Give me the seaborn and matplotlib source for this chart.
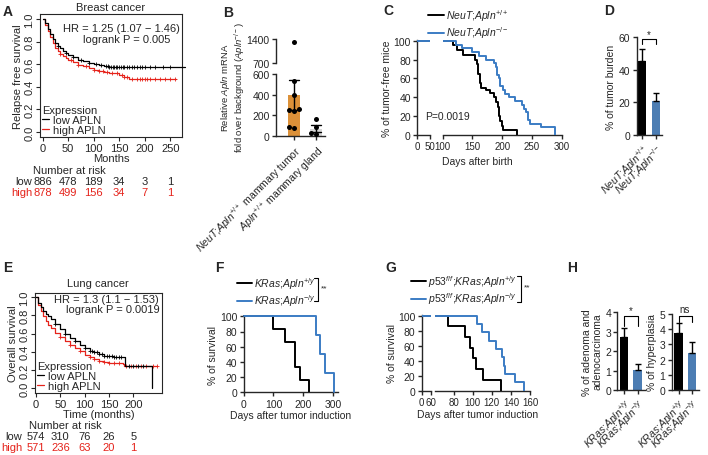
import numpy as np
import pandas as pd
import seaborn as sns
import matplotlib.pyplot as plt
from matplotlib import transforms
from matplotlib.lines import Line2D

# ---------------- data ----------------
# A: breast cancer relapse free survival (months, survival)
breast_low_t = [0, 5, 10, 15, 20, 25, 30, 35, 40, 45, 50, 60, 70, 80, 90, 100, 110, 120, 130, 278]
breast_low_s = [1.0, 0.96, 0.91, 0.87, 0.82, 0.785, 0.76, 0.74, 0.72, 0.70, 0.685, 0.66, 0.64,
                0.625, 0.61, 0.60, 0.59, 0.582, 0.577, 0.577]
breast_high_t = [0, 5, 10, 15, 20, 25, 30, 35, 40, 45, 50, 60, 70, 80, 90, 100, 110, 120, 130,
                 140, 150, 160, 170, 262]
breast_high_s = [1.0, 0.95, 0.89, 0.84, 0.79, 0.745, 0.715, 0.69, 0.67, 0.655, 0.64, 0.615, 0.595,
                 0.58, 0.565, 0.55, 0.54, 0.535, 0.525, 0.52, 0.50, 0.49, 0.47, 0.47]
breast_low_cens = [30, 45, 60, 75, 90, 105, 115, 125, 128, 131, 134, 137, 140, 143, 146, 150, 153,
                   157, 160, 165, 170, 175, 180, 185, 190, 195, 200, 210, 220, 235, 250, 275]
breast_high_cens = [35, 55, 70, 85, 100, 110, 118, 126, 135, 145, 155, 160, 165, 175, 185, 190,
                    195, 200, 205, 210, 220, 230, 240, 250, 260]
breast_risk_months = [0, 50, 100, 150, 200, 250]
breast_risk_low = [886, 478, 189, 34, 3, 1]
breast_risk_high = [878, 499, 156, 34, 7, 1]

# B: relative Apln mRNA
b_groups = ["tumor"] * 8 + ["gland"] * 4
b_values = [1320, 530, 400, 265, 255, 240, 90, 80, 165, 85, 25, 15]

# C: tumor-free mice (days, %)
c_wt_t = [0, 117, 124, 134, 155, 158, 160, 162, 164, 172, 180, 186, 190, 193, 195, 197, 199, 201, 225]
c_wt_s = [100, 95, 90, 85, 80, 75, 65, 55, 50, 47.5, 45, 40, 35, 30, 20, 15, 10, 5, 0]
c_ko_t = [0, 122, 133, 150, 161, 172, 186, 190, 192, 194, 197, 201, 205, 211, 222, 233, 237, 240,
          243, 246, 265, 289]
c_ko_s = [100, 96, 92, 88, 84, 80, 76, 72, 64, 60, 52, 48, 44, 40, 36, 32, 28, 24, 16, 12, 8, 0]

# D: tumor burden
d_means = [45.5, 20.5]
d_sems = [7.0, 5.0]

# E: lung cancer overall survival
lung_low_t = [0, 5, 10, 15, 20, 25, 30, 40, 50, 60, 70, 80, 90, 100, 110, 120, 130, 140, 150, 160,
              180, 182, 237, 237.5]
lung_low_s = [1.0, 0.94, 0.89, 0.85, 0.82, 0.79, 0.76, 0.71, 0.655, 0.595, 0.555, 0.515, 0.475,
              0.44, 0.415, 0.395, 0.375, 0.36, 0.35, 0.34, 0.34, 0.245, 0.245, 0.0]
lung_high_t = [0, 5, 10, 15, 20, 25, 30, 40, 50, 60, 70, 80, 90, 100, 110, 120, 130, 140, 150, 160,
               178, 180, 248]
lung_high_s = [1.0, 0.92, 0.85, 0.79, 0.74, 0.70, 0.665, 0.61, 0.56, 0.515, 0.48, 0.44, 0.405,
               0.37, 0.345, 0.325, 0.305, 0.29, 0.28, 0.275, 0.27, 0.245, 0.245]
lung_low_cens = [40, 60, 80, 100, 110, 115, 120, 125, 130, 135, 140, 145, 150, 155, 160, 165, 170,
                 175, 190, 200, 210, 220]
lung_high_cens = [50, 70, 90, 110, 120, 130, 140, 150, 160, 170, 185, 195, 205, 215, 225, 240, 248]
lung_risk_months = [0, 50, 100, 150, 200]
lung_risk_low = [574, 310, 76, 26, 5]
lung_risk_high = [571, 236, 63, 20, 1]

# F: KRas survival
f_wt_t = [0, 97, 140, 172, 188, 218]
f_wt_s = [100, 83.3, 66.7, 33.3, 16.7, 0]
f_ko_t = [0, 241, 257, 272, 303]
f_ko_s = [100, 75, 50, 25, 0]

# G: p53;KRas survival
g_wt_t = [0, 74, 92, 97.5, 100, 103, 111, 130]
g_wt_s = [100, 85.7, 71.4, 57.1, 42.9, 28.6, 14.3, 0]
g_ko_t = [0, 105, 110, 117, 124, 131, 132.5, 134, 144, 154]
g_ko_s = [100, 88.9, 77.8, 66.7, 55.6, 44.4, 33.3, 22.2, 11.1, 0]

# H: adenoma / hyperplasia
h1_means = [2.75, 1.05]
h1_sems = [0.45, 0.3]
h2_means = [3.75, 2.45]
h2_sems = [0.65, 0.68]

BLACK = "#000000"
BLUE = "#3B7CC4"
RED = "#E5231B"
ORANGE = "#F7931E"
GRAY = "#D6D6D6"

# ---------------- style ----------------
sns.set_style("ticks")
plt.rcParams['font.family'] = ['Liberation Sans', 'DejaVu Sans']
plt.rcParams['mathtext.fontset'] = 'custom'
plt.rcParams['mathtext.rm'] = 'Liberation Sans'
plt.rcParams['mathtext.it'] = 'Liberation Sans:italic'
plt.rcParams['mathtext.bf'] = 'Liberation Sans:bold'
plt.rcParams['axes.linewidth'] = 1.0

W, H = 708, 456
fig = plt.figure(figsize=(W / 100, H / 100), dpi=100)
PT = 7.5   # prism tick label size
RT = 8     # R tick label size


def add_ax(left, top, right, bottom):
    return fig.add_axes([left / W, 1 - bottom / H, (right - left) / W, (bottom - top) / H])


def ftext(x, y, s, **kw):
    return fig.text(x / W, 1 - y / H, s, **kw)


def step_at(t, s, times):
    idx = np.searchsorted(np.asarray(t), np.asarray(times), side='right') - 1
    return np.asarray(s)[idx]


def km_line(ax, t, s, color, lw=1.4, zorder=2, clip=False):
    df = pd.DataFrame({'t': t, 's': s})
    sns.lineplot(data=df, x='t', y='s', ax=ax, color=color, lw=lw, drawstyle='steps-post',
                 estimator=None, sort=False, zorder=zorder, clip_on=clip)


def prism(ax, left=True, xsize=PT):
    sns.despine(ax=ax, left=not left)
    ax.tick_params(direction='out', length=3, width=1, labelsize=PT, pad=1.5)
    ax.tick_params(axis='x', labelsize=xsize)
    if not left:
        ax.tick_params(axis='y', left=False, labelleft=False)
    ax.set_xlabel('')
    ax.set_ylabel('')


def g(s, sup):
    # italic genotype with superscript
    parts = s.split(';')
    txt = ';'.join(r"$\mathit{" + p + "}$" for p in parts[:-1])
    if txt:
        txt += ';'
    return txt + r"$\mathit{" + parts[-1] + r"}^{" + sup + r"}$"


def r_panel(ax, low_t, low_s, high_t, high_s, low_c, high_c, xlim, ylim, xticks):
    km_line(ax, low_t, low_s, BLACK, lw=0.9, zorder=3)
    km_line(ax, high_t, high_s, RED, lw=0.9, zorder=2)
    sns.scatterplot(x=low_c, y=step_at(low_t, low_s, low_c), ax=ax, marker='+', s=10,
                    color=BLACK, linewidth=0.6, zorder=3)
    sns.scatterplot(x=high_c, y=step_at(high_t, high_s, high_c), ax=ax, marker='+', s=10,
                    color=RED, linewidth=0.6, zorder=2)
    ax.set_xlim(*xlim)
    ax.set_ylim(*ylim)
    ax.set_xticks(xticks)
    ax.set_yticks([0, 0.2, 0.4, 0.6, 0.8, 1.0], labels=['0.0', '0.2', '0.4', '0.6', '0.8', '1.0'])
    for sp in ax.spines.values():
        sp.set_visible(True)
        sp.set_linewidth(0.8)
    ax.tick_params(direction='out', length=3, width=0.8, labelsize=RT, pad=1)
    ax.tick_params(axis='y', labelrotation=90)
    for lab in ax.get_yticklabels():
        lab.set_va('center')
    handles = [Line2D([], [], color=BLACK, lw=0.9), Line2D([], [], color=RED, lw=0.9)]
    ax.legend(handles, ['low APLN', 'high APLN'], title='Expression', loc='lower left',
              frameon=False, fontsize=8, title_fontsize=8, handlelength=0.7,
              handletextpad=0.3, labelspacing=0.0, borderpad=0.1, borderaxespad=0.05,
              alignment='left')


def risk_table(ax, months, low, high, label_x, y_title, y_low, y_high, title_x):
    tr = transforms.blended_transform_factory(ax.transData, fig.transFigure)
    ftext(title_x, y_title, 'Number at risk', fontsize=8, ha='left', va='center')
    ftext(label_x, y_low, 'low', fontsize=8, ha='right', va='center')
    ftext(label_x, y_high, 'high', fontsize=8, ha='right', va='center', color=RED)
    for m, a, b in zip(months, low, high):
        ax.text(m, 1 - y_low / H, str(a), transform=tr, fontsize=8, ha='center', va='center')
        ax.text(m, 1 - y_high / H, str(b), transform=tr, fontsize=8, ha='center', va='center',
                color=RED)


def bracket(ax, x0, x1, y, leg, label, label_y, fs=7):
    ax.plot([x0, x0, x1, x1], [y - leg, y, y, y - leg], color='black', lw=0.8, clip_on=False)
    ax.text((x0 + x1) / 2, label_y, label, ha='center', va='center', fontsize=fs)


def legend_bracket(x, y0, y1, text):
    fig.add_artist(Line2D([(x - 4) / W, x / W, x / W, (x - 4) / W],
                          [1 - y0 / H, 1 - y0 / H, 1 - y1 / H, 1 - y1 / H],
                          color='black', lw=0.8))
    ftext(x + 3, (y0 + y1) / 2 - 2, text, fontsize=6, ha='left', va='center')


def km_legend(ax, labels, x, y, hl=1.4):
    ax.legend([Line2D([], [], color=BLACK, lw=1.4), Line2D([], [], color=BLUE, lw=1.4)], labels,
              loc='upper left', bbox_to_anchor=(x / W, 1 - y / H), bbox_transform=fig.transFigure,
              frameon=False, fontsize=7.5, handlelength=hl, handletextpad=0.2, labelspacing=0.15,
              borderpad=0, borderaxespad=0)


# ---------------- A ----------------
axA = add_ax(40, 15, 182, 138)
r_panel(axA, breast_low_t, breast_low_s, breast_high_t, breast_high_s, breast_low_cens,
        breast_high_cens, (-5, 273), (-0.044, 1.044), [0, 50, 100, 150, 200, 250])
axA.set_title('Breast cancer', fontsize=8, pad=3)
axA.set_xlabel('Months', fontsize=8, labelpad=0.5)
axA.set_ylabel('Relapse free survival', fontsize=8, labelpad=1)
axA.text(0.57, 0.89, 'HR = 1.25 (1.07 \u2212 1.46)', transform=axA.transAxes, fontsize=8,
         ha='center', va='center')
axA.text(0.61, 0.80, 'logrank P = 0.005', transform=axA.transAxes, fontsize=8,
         ha='center', va='center')
risk_table(axA, breast_risk_months, breast_risk_low, breast_risk_high, 32.5, 171, 182, 193, 33)

# ---------------- B ----------------
b_df = pd.DataFrame({'group': b_groups, 'value': b_values})
axBb = add_ax(276, 75, 325, 137)
axBt = add_ax(276, 40, 325, 64)
sns.barplot(data=b_df, x='group', y='value', hue='group', palette=[ORANGE, GRAY], legend=False,
            errorbar='se', capsize=0.45, err_kws={'linewidth': 1.0, 'color': 'black'},
            width=0.55, ax=axBb, linewidth=0)
for axb in (axBb, axBt):
    sns.swarmplot(data=b_df, x='group', y='value', color='black', size=3.6, ax=axb, zorder=4)
    axb.set_xlim(-0.82, 1.4)
axBb.set_ylim(0, 600)
axBb.set_yticks([0, 200, 400, 600])
axBt.set_ylim(700, 1400)
axBt.set_yticks([700, 1400])
prism(axBb)
prism(axBt)
axBt.spines['bottom'].set_visible(False)
axBt.tick_params(axis='x', bottom=False, labelbottom=False)
axBb.set_xticks([0, 1], labels=[g('NeuT;Apln', '+/+') + ' mammary tumor',
                                g('Apln', '+/+') + ' mammary gland'],
                rotation=45, ha='right', rotation_mode='anchor', fontsize=PT)
ftext(233, 88, r"Relative $\mathit{Apln}$ mRNA" + "\n" + r"fold over background ($\mathit{Apln}^{-/-}$)",
      rotation=90, ha='center', va='center', fontsize=6.8, linespacing=1.05)

# ---------------- C ----------------
axCl = add_ax(417, 41, 429.5, 136)
axCr = add_ax(442.5, 41, 562, 136)
for axc in (axCl, axCr):
    km_line(axc, c_wt_t, c_wt_s, BLACK, zorder=2, clip=True)
    km_line(axc, c_ko_t, c_ko_s, BLUE, zorder=3, clip=True)
    axc.set_ylim(0, 100.8)
axCl.set_xlim(0, 50)
axCl.set_xticks([0, 50])
axCr.set_xlim(100, 300)
axCr.set_xticks([100, 150, 200, 250, 300])
axCl.set_yticks([0, 20, 40, 60, 80, 100])
prism(axCl, xsize=7)
prism(axCr, left=False, xsize=7)
axCl.set_ylabel('% of tumor-free mice', fontsize=7.5, labelpad=1)
ftext(477, 162, 'Days after birth', fontsize=7.5, ha='center', va='center')
ftext(425, 117, 'P=0.0019', fontsize=7.5, ha='left', va='center')
km_legend(axCr, [g('NeuT;Apln', '+/+'), g('NeuT;Apln', '-/-')], 428, 8, hl=1.5)

# ---------------- D ----------------
axD = add_ax(636.7, 38.3, 661.7, 135.7)
d_labels = ['wt', 'ko']
sns.barplot(x=d_labels, y=d_means, hue=d_labels, palette=[BLACK, BLUE], legend=False,
            width=0.58, ax=axD, linewidth=0)
axD.errorbar([0, 1], d_means, yerr=[[0, 0], d_sems], fmt='none', ecolor='black',
             elinewidth=1, capsize=2.5, capthick=1)
axD.set_xlim(-0.42, 1.42)
axD.set_ylim(0, 60)
axD.set_yticks([0, 20, 40, 60])
prism(axD)
axD.set_xticks([0, 1], labels=[g('NeuT;Apln', '+/+'), g('NeuT;Apln', '-/-')],
               rotation=45, ha='right', rotation_mode='anchor', fontsize=PT)
axD.set_ylabel('% of tumor burden', fontsize=7.5, labelpad=2)
bracket(axD, 0, 1, 58.9, 3.3, '*', 62)

# ---------------- E ----------------
axE = add_ax(35, 294, 161.7, 394)
r_panel(axE, lung_low_t, lung_low_s, lung_high_t, lung_high_s, lung_low_cens, lung_high_cens,
        (-2, 258), (-0.052, 1.047), [0, 50, 100, 150, 200])
axE.set_title('Lung cancer', fontsize=8, pad=5)
axE.set_xlabel('Time (months)', fontsize=8, labelpad=0.5)
axE.set_ylabel('Overall survival', fontsize=8, labelpad=1)
axE.text(0.98, 0.94, 'HR = 1.3 (1.1 \u2212 1.53)', transform=axE.transAxes, fontsize=8,
         ha='right', va='center')
axE.text(0.98, 0.84, 'logrank P = 0.0019', transform=axE.transAxes, fontsize=8,
         ha='right', va='center')
risk_table(axE, lung_risk_months, lung_risk_low, lung_risk_high, 22, 426, 437, 448.5, 29)

# ---------------- F ----------------
axF = add_ax(243.5, 317.3, 338, 393.3)
km_line(axF, f_wt_t, f_wt_s, BLACK, zorder=2)
km_line(axF, f_ko_t, f_ko_s, BLUE, zorder=3)
axF.set_xlim(0, 316)
axF.set_ylim(0, 100)
axF.set_xticks([0, 100, 200, 300])
axF.set_yticks([0, 20, 40, 60, 80, 100])
prism(axF)
axF.set_xlabel('Days after tumor induction', fontsize=7.5, labelpad=1)
axF.set_ylabel('% of survival', fontsize=7.5, labelpad=1)
km_legend(axF, [g('KRas;Apln', '+/y'), g('KRas;Apln', '-/y')], 237, 276)
legend_bracket(318, 279, 302, '**')

# ---------------- G ----------------
axGl = add_ax(421.7, 316, 431, 391.7)
axGr = add_ax(434.5, 316, 530, 391.7)
for axg in (axGl, axGr):
    km_line(axg, g_wt_t, g_wt_s, BLACK, zorder=2, clip=True)
    km_line(axg, g_ko_t, g_ko_s, BLUE, zorder=3, clip=True)
    axg.set_ylim(0, 100.8)
axGl.set_xlim(0, 60)
axGl.set_xticks([0, 60])
axGr.set_xlim(60, 160)
axGr.set_xticks([80, 100, 120, 140, 160])
axGl.set_yticks([0, 20, 40, 60, 80, 100])
prism(axGl, xsize=7)
prism(axGr, left=False, xsize=7)
axGl.set_ylabel('% of survival', fontsize=7.5, labelpad=1)
ftext(478, 415, 'Days after tumor induction', fontsize=7.5, ha='center', va='center')
km_legend(axGr, [r"$\mathit{p53}^{f/f}$;" + g('KRas;Apln', '+/y'),
                 r"$\mathit{p53}^{f/f}$;" + g('KRas;Apln', '-/y')], 411, 274)
legend_bracket(521, 277, 303, '**')

# ---------------- H ----------------
h_labels = ['wt', 'ko']
h_tick_labels = [g('KRas;Apln', '+/y'), g('KRas;Apln', '-/y')]
axH1 = add_ax(617.3, 313.3, 645, 391)
axH2 = add_ax(671.7, 315, 699, 391)
for axh, means, sems, top in ((axH1, h1_means, h1_sems, 4), (axH2, h2_means, h2_sems, 5)):
    sns.barplot(x=h_labels, y=means, hue=h_labels, palette=[BLACK, BLUE], legend=False,
                width=0.62, ax=axh, linewidth=0)
    axh.errorbar([0, 1], means, yerr=[[0, 0], sems], fmt='none', ecolor='black',
                 elinewidth=1, capsize=2.5, capthick=1)
    axh.set_xlim(-0.52, 1.56)
    axh.set_ylim(0, top)
    axh.set_yticks(list(range(top + 1)))
    prism(axh)
    axh.set_xticks([0, 1], labels=h_tick_labels, rotation=45, ha='right',
                   rotation_mode='anchor', fontsize=PT)
axH1.set_ylabel('% of adenoma and\nadenocarcinoma', fontsize=7.5, labelpad=2, linespacing=1.0)
axH2.set_ylabel('% of hyperplasia', fontsize=7.5, labelpad=2)
bracket(axH1, 0, 1, 3.79, 0.48, '*', 4.13)
bracket(axH2, 0, 1, 4.85, 0.4, 'ns', 5.3)

# ---------------- panel letters ----------------
for letter, x, y in [('A', 3, 12), ('B', 223, 13), ('C', 383, 11), ('D', 604, 11),
                     ('E', 3, 268), ('F', 215, 268), ('G', 385, 268), ('H', 567, 268)]:
    ftext(x, y, letter, fontsize=10, fontweight='bold', ha='left', va='center')

fig.savefig('out.png', dpi=100)
